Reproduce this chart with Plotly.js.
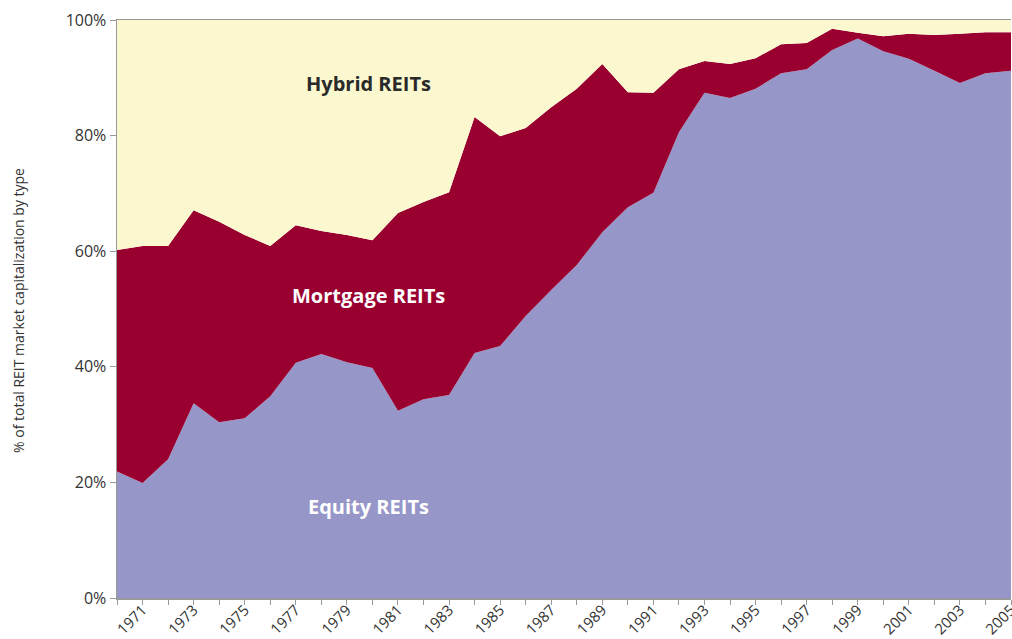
<!DOCTYPE html>
<html>
<head>
<meta charset="utf-8">
<script src="https://cdn.plot.ly/plotly-3.0.1.min.js"></script>
<style>html,body{margin:0;padding:0;background:#fff}#chart{width:1012px;height:639px}</style>
</head>
<body>
<div id="chart"></div>
<script>
const years = [1970,1971,1972,1973,1974,1975,1976,1977,1978,1979,1980,1981,1982,1983,1984,1985,1986,1987,1988,1989,1990,1991,1992,1993,1994,1995,1996,1997,1998,1999,2000,2001,2002,2003,2004,2005];
// share of equity REITs (%)
const equity = [21.9,19.9,24.0,33.7,30.4,31.1,34.9,40.7,42.2,40.8,39.8,32.4,34.4,35.1,42.4,43.6,48.8,53.3,57.6,63.3,67.6,70.1,80.6,87.4,86.5,88.1,90.8,91.5,94.8,96.8,94.6,93.3,91.2,89.1,90.8,91.2];
// share of mortgage REITs (%)
const mortgage = [38.3,41.0,36.9,33.4,34.7,31.7,26.0,23.8,21.3,22.0,22.1,34.2,34.1,35.1,40.8,36.3,32.5,31.6,30.5,29.1,19.9,17.3,10.9,5.5,5.9,5.3,5.0,4.5,3.7,1.0,2.6,4.3,6.2,8.5,7.1,6.7];
// share of hybrid REITs (%)
const hybrid = years.map((y,i)=> +(100 - equity[i] - mortgage[i]).toFixed(1));
const seriesNames = ['Equity REITs','Mortgage REITs','Hybrid REITs'];
const yTickVals = [0,20,40,60,80,100];
const yTickText = ['0%','20%','40%','60%','80%','100%'];
const xTickText = years.map(y => (y % 2 === 1 ? String(y) : ''));

const font = "'Open Sans', 'Noto Sans', sans-serif";
const colors = ['#9696c8','#990030','#fbf8d0'];
const vals = [equity, mortgage, hybrid];

const traces = vals.map((v,i)=>({
  x: years, y: v, name: seriesNames[i], type:'scatter', mode:'none',
  stackgroup:'one', fillcolor: colors[i], line:{width:0}, hoverinfo:'x+y+name'
}));

const layout = {
  width:1012, height:639,
  margin:{l:117, r:1, t:20, b:41},
  paper_bgcolor:'#fff', plot_bgcolor:'#fff',
  showlegend:false,
  font:{family:font, color:'#333'},
  xaxis:{
    range:[1970,2005], tickmode:'array', tickvals: years, ticktext: xTickText,
    tickangle:-45, ticks:'outside', ticklen:5, tickcolor:'#999', tickwidth:1,
    ticklabelstandoff:-9, ticklabeloverflow:'allow',
    showline:true, linecolor:'#999', linewidth:1.5, mirror:true,
    showgrid:false, zeroline:false,
    tickfont:{size:15, color:'#333', family:font}
  },
  yaxis:{
    range:[0,100], tickmode:'array', tickvals: yTickVals, ticktext: yTickText,
    ticks:'outside', ticklen:6, tickcolor:'#999', tickwidth:1,
    showline:true, linecolor:'#999', linewidth:1.5,
    showgrid:false, zeroline:false,
    tickfont:{size:16, color:'#333', family:font}
  },
  annotations:[
    {x:-0.111, y:0.498, xref:'paper', yref:'paper', textangle:-90, xanchor:'center', yanchor:'middle',
     text:'% of total REIT market capitalization by type', showarrow:false, font:{size:14, color:'#333', family:font}},
    {x:1979.83, y:89.1, xref:'x', yref:'y', text:'<b>Hybrid REITs</b>', showarrow:false, font:{size:20, color:'#2a2a2a', family:font}},
    {x:1979.83, y:52.4, xref:'x', yref:'y', text:'<b>Mortgage REITs</b>', showarrow:false, font:{size:20, color:'#ffffff', family:font}},
    {x:1979.83, y:15.9, xref:'x', yref:'y', text:'<b>Equity REITs</b>', showarrow:false, font:{size:20, color:'#ffffff', family:font}}
  ]
};

Plotly.newPlot('chart', traces, layout, {displayModeBar:false, staticPlot:true});
</script>
</body>
</html>
